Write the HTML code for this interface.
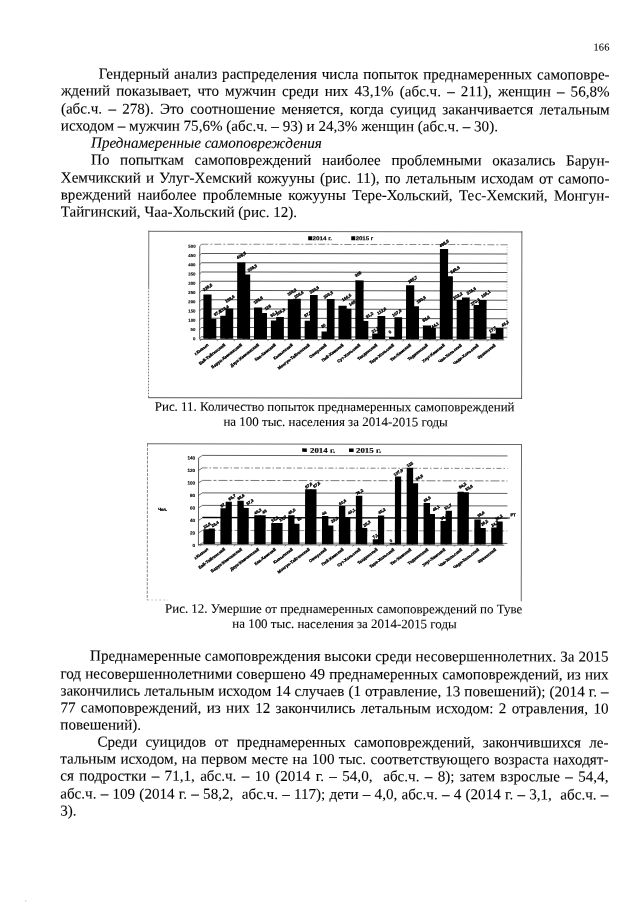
<!DOCTYPE html>
<html lang="ru">
<head>
<meta charset="utf-8">
<title>166</title>
<style>
html,body{margin:0;padding:0;background:#fff;}
body{width:640px;height:905px;position:relative;overflow:hidden;font-family:"Liberation Serif",serif;color:#000;}
.l{position:absolute;white-space:pre;line-height:17.0px;height:17.0px;color:#000;-webkit-text-stroke:0.08px #000;}
#pg{position:absolute;left:0;top:0;width:640px;height:905px;transform:rotate(0.1deg);transform-origin:320px 452px;}
svg{position:absolute;left:0;top:0;}
svg text{font-family:"Liberation Sans",sans-serif;fill:#000;stroke:#000;stroke-width:0.32px;}
svg text.lg{stroke-width:0.15px;}
svg text.yl{stroke-width:0.12px;}
svg text.s{font-family:"Liberation Serif",serif;}
</style>
</head>
<body>
<div id="pg">
<div class="l" style="left:592.70px;top:37.79px;font-size:10.4px;letter-spacing:0.25px;">166</div>
<div class="l" style="left:98.00px;top:66.10px;font-size:15.1px;width:511.00px;text-align:justify;text-align-last:justify;">Гендерный анализ распределения числа попыток преднамеренных самоповре-</div>
<div class="l" style="left:60.30px;top:83.36px;font-size:15.1px;width:548.70px;text-align:justify;text-align-last:justify;">ждений показывает, что мужчин среди них 43,1% (абс.ч. – 211), женщин – 56,8%</div>
<div class="l" style="left:60.30px;top:100.62px;font-size:15.1px;width:548.70px;text-align:justify;text-align-last:justify;">(абс.ч. – 278). Это соотношение меняется, когда суицид заканчивается летальным</div>
<div class="l" style="left:60.30px;top:117.88px;font-size:15.1px;">исходом – мужчин 75,6% (абс.ч. – 93) и 24,3% женщин (абс.ч. – 30).</div>
<div class="l" style="left:90.50px;top:135.14px;font-size:15.1px;font-style:italic;">Преднамеренные самоповреждения</div>
<div class="l" style="left:90.50px;top:152.40px;font-size:15.1px;width:518.50px;text-align:justify;text-align-last:justify;">По попыткам самоповреждений наиболее проблемными оказались Барун-</div>
<div class="l" style="left:60.30px;top:169.66px;font-size:15.1px;width:548.70px;text-align:justify;text-align-last:justify;">Хемчикский и Улуг-Хемский кожууны (рис. 11), по летальным исходам от самопо-</div>
<div class="l" style="left:60.30px;top:186.92px;font-size:15.1px;width:548.70px;text-align:justify;text-align-last:justify;">вреждений наиболее проблемные кожууны Тере-Хольский, Тес-Хемский, Монгун-</div>
<div class="l" style="left:60.30px;top:204.18px;font-size:15.1px;">Тайгинский, Чаа-Хольский (рис. 12).</div>
<div class="l" style="left:154.70px;top:398.03px;font-size:12.95px;">Рис. 11. Количество попыток преднамеренных самоповреждений</div>
<div class="l" style="left:223.40px;top:413.38px;font-size:12.95px;">на 100 тыс. населения за 2014-2015 годы</div>
<div class="l" style="left:165.30px;top:600.03px;font-size:12.95px;">Рис. 12. Умершие от преднамеренных самоповреждений по Туве</div>
<div class="l" style="left:232.60px;top:615.03px;font-size:12.95px;">на 100 тыс. населения за 2014-2015 годы</div>
<div class="l" style="left:90.40px;top:648.35px;font-size:15.1px;width:518.60px;text-align:justify;text-align-last:justify;">Преднамеренные самоповреждения высоки среди несовершеннолетних. За 2015</div>
<div class="l" style="left:60.85px;top:665.50px;font-size:15.1px;width:548.15px;text-align:justify;text-align-last:justify;">год несовершеннолетними совершено 49 преднамеренных самоповреждений, из них</div>
<div class="l" style="left:60.85px;top:682.65px;font-size:15.1px;width:548.15px;text-align:justify;text-align-last:justify;">закончились летальным исходом 14 случаев (1 отравление, 13 повешений); (2014 г. –</div>
<div class="l" style="left:60.85px;top:699.80px;font-size:15.1px;width:548.15px;text-align:justify;text-align-last:justify;">77 самоповреждений, из них 12 закончились летальным исходом: 2 отравления, 10</div>
<div class="l" style="left:60.85px;top:716.95px;font-size:15.1px;">повешений).</div>
<div class="l" style="left:97.90px;top:734.10px;font-size:15.1px;width:511.10px;text-align:justify;text-align-last:justify;">Среди суицидов от преднамеренных самоповреждений, закончившихся ле-</div>
<div class="l" style="left:60.85px;top:751.25px;font-size:15.1px;width:548.15px;text-align:justify;text-align-last:justify;">тальным исходом, на первом месте на 100 тыс. соответствующего возраста находят-</div>
<div class="l" style="left:60.85px;top:768.40px;font-size:15.1px;width:548.15px;text-align:justify;text-align-last:justify;">ся подростки – 71,1, абс.ч. – 10 (2014 г. – 54,0,  абс.ч. – 8); затем взрослые – 54,4,</div>
<div class="l" style="left:60.85px;top:785.55px;font-size:15.1px;width:548.15px;text-align:justify;text-align-last:justify;">абс.ч. – 109 (2014 г. – 58,2,  абс.ч. – 117); дети – 4,0, абс.ч. – 4 (2014 г. – 3,1,  абс.ч. –</div>
<div class="l" style="left:60.85px;top:802.70px;font-size:15.1px;">3).</div>
<div style="position:absolute;left:26px;top:901px;width:1px;height:1px;background:#aaa"></div>
<svg width="640" height="905" viewBox="0 0 640 905">
<g>
<line x1="148" y1="231.6" x2="522" y2="231.6" stroke="#555" stroke-width="0.9"/>
<line x1="148.4" y1="231" x2="148.4" y2="288" stroke="#666" stroke-width="0.9"/>
<line x1="148.4" y1="288" x2="148.4" y2="398.5" stroke="#666" stroke-width="0.9" stroke-dasharray="1.6 1.4"/>
<line x1="521.5" y1="231" x2="521.5" y2="398.5" stroke="#555" stroke-width="0.9"/>
<line x1="148" y1="398" x2="522" y2="398" stroke="#444" stroke-width="0.9"/>
<line x1="201.0" y1="244.35" x2="507.0" y2="244.35" stroke="#5a5a5a" stroke-width="1.0" stroke-dasharray="7 2 2 2" opacity="0.7"/>
<line x1="199.4" y1="246.55" x2="201.0" y2="244.35" stroke="#5a5a5a" stroke-width="0.7"/>
<line x1="201.0" y1="253.60" x2="507.0" y2="253.60" stroke="#5a5a5a" stroke-width="1.0"/>
<line x1="199.4" y1="255.80" x2="201.0" y2="253.60" stroke="#5a5a5a" stroke-width="0.7"/>
<line x1="201.0" y1="262.85" x2="507.0" y2="262.85" stroke="#5a5a5a" stroke-width="1.0"/>
<line x1="199.4" y1="265.05" x2="201.0" y2="262.85" stroke="#5a5a5a" stroke-width="0.7"/>
<line x1="201.0" y1="272.10" x2="507.0" y2="272.10" stroke="#5a5a5a" stroke-width="1.0"/>
<line x1="199.4" y1="274.30" x2="201.0" y2="272.10" stroke="#5a5a5a" stroke-width="0.7"/>
<line x1="201.0" y1="281.35" x2="507.0" y2="281.35" stroke="#5a5a5a" stroke-width="1.0"/>
<line x1="199.4" y1="283.55" x2="201.0" y2="281.35" stroke="#5a5a5a" stroke-width="0.7"/>
<line x1="201.0" y1="290.60" x2="507.0" y2="290.60" stroke="#5a5a5a" stroke-width="1.0"/>
<line x1="199.4" y1="292.80" x2="201.0" y2="290.60" stroke="#5a5a5a" stroke-width="0.7"/>
<line x1="201.0" y1="299.85" x2="507.0" y2="299.85" stroke="#5a5a5a" stroke-width="1.0"/>
<line x1="199.4" y1="302.05" x2="201.0" y2="299.85" stroke="#5a5a5a" stroke-width="0.7"/>
<line x1="201.0" y1="309.10" x2="507.0" y2="309.10" stroke="#5a5a5a" stroke-width="1.0"/>
<line x1="199.4" y1="311.30" x2="201.0" y2="309.10" stroke="#5a5a5a" stroke-width="0.7"/>
<line x1="201.0" y1="318.35" x2="507.0" y2="318.35" stroke="#5a5a5a" stroke-width="1.0"/>
<line x1="199.4" y1="320.55" x2="201.0" y2="318.35" stroke="#5a5a5a" stroke-width="0.7"/>
<line x1="201.0" y1="327.60" x2="507.0" y2="327.60" stroke="#5a5a5a" stroke-width="1.0"/>
<line x1="199.4" y1="329.80" x2="201.0" y2="327.60" stroke="#5a5a5a" stroke-width="0.7"/>
<line x1="201.0" y1="336.85" x2="507.0" y2="336.85" stroke="#5a5a5a" stroke-width="1.0"/>
<line x1="199.4" y1="339.05" x2="201.0" y2="336.85" stroke="#5a5a5a" stroke-width="0.7"/>
<line x1="199.4" y1="246.55" x2="199.4" y2="339.05" stroke="#333" stroke-width="0.8"/>
<line x1="199.4" y1="339.60" x2="504.0" y2="339.60" stroke="#333" stroke-width="0.8"/>
<text x="195.2" y="248.05" class="yl" font-size="4.3" font-weight="bold" text-anchor="end">500</text>
<text x="195.2" y="257.31" class="yl" font-size="4.3" font-weight="bold" text-anchor="end">450</text>
<text x="195.2" y="266.56" class="yl" font-size="4.3" font-weight="bold" text-anchor="end">400</text>
<text x="195.2" y="275.81" class="yl" font-size="4.3" font-weight="bold" text-anchor="end">350</text>
<text x="195.2" y="285.06" class="yl" font-size="4.3" font-weight="bold" text-anchor="end">300</text>
<text x="195.2" y="294.31" class="yl" font-size="4.3" font-weight="bold" text-anchor="end">250</text>
<text x="195.2" y="303.56" class="yl" font-size="4.3" font-weight="bold" text-anchor="end">200</text>
<text x="195.2" y="312.81" class="yl" font-size="4.3" font-weight="bold" text-anchor="end">150</text>
<text x="195.2" y="322.06" class="yl" font-size="4.3" font-weight="bold" text-anchor="end">100</text>
<text x="195.2" y="331.31" class="yl" font-size="4.3" font-weight="bold" text-anchor="end">50</text>
<text x="195.2" y="340.56" class="yl" font-size="4.3" font-weight="bold" text-anchor="end">0</text>
<rect x="203.10" y="294.70" width="8.20" height="44.30"/>
<rect x="208.40" y="318.90" width="7.70" height="20.10"/>
<rect x="219.99" y="316.00" width="8.20" height="23.00"/>
<rect x="225.29" y="308.75" width="7.70" height="30.25"/>
<rect x="236.88" y="262.70" width="8.20" height="76.30"/>
<rect x="242.18" y="274.70" width="7.70" height="64.30"/>
<rect x="253.77" y="307.50" width="8.20" height="31.50"/>
<rect x="259.07" y="313.10" width="7.70" height="25.90"/>
<rect x="270.66" y="320.50" width="8.20" height="18.50"/>
<rect x="275.96" y="317.00" width="7.70" height="22.00"/>
<rect x="287.55" y="299.30" width="8.20" height="39.70"/>
<rect x="292.85" y="298.70" width="7.70" height="40.30"/>
<rect x="304.44" y="320.80" width="8.20" height="18.20"/>
<rect x="309.74" y="295.00" width="7.70" height="44.00"/>
<rect x="321.33" y="331.40" width="8.20" height="7.60"/>
<rect x="326.63" y="299.00" width="7.70" height="40.00"/>
<rect x="338.22" y="305.60" width="8.20" height="33.40"/>
<rect x="343.52" y="308.75" width="7.70" height="30.25"/>
<rect x="355.11" y="280.30" width="8.20" height="58.70"/>
<rect x="360.41" y="320.80" width="7.70" height="18.20"/>
<rect x="372.00" y="333.30" width="8.20" height="5.70"/>
<rect x="377.30" y="316.00" width="7.70" height="23.00"/>
<rect x="388.89" y="336.90" width="8.20" height="2.10"/>
<rect x="394.19" y="317.00" width="7.70" height="22.00"/>
<rect x="405.78" y="285.00" width="8.20" height="54.00"/>
<rect x="411.08" y="306.00" width="7.70" height="33.00"/>
<rect x="422.67" y="325.20" width="8.20" height="13.80"/>
<rect x="427.97" y="327.80" width="7.70" height="11.20"/>
<rect x="439.56" y="248.90" width="8.20" height="90.10"/>
<rect x="444.86" y="276.00" width="7.70" height="63.00"/>
<rect x="456.45" y="299.80" width="8.20" height="39.20"/>
<rect x="461.75" y="297.30" width="7.70" height="41.70"/>
<rect x="473.34" y="304.80" width="8.20" height="34.20"/>
<rect x="478.64" y="299.80" width="7.70" height="39.20"/>
<rect x="490.23" y="333.30" width="8.20" height="5.70"/>
<rect x="495.53" y="327.80" width="7.70" height="11.20"/>
<text transform="translate(203.71,291.50) rotate(-33)" font-size="4.1" font-weight="bold">228,5</text>
<text transform="translate(214.71,316.40) rotate(-33)" font-size="4.1" font-weight="bold">97,5</text>
<text transform="translate(220.60,312.80) rotate(-33)" font-size="4.1" font-weight="bold">113,4</text>
<text transform="translate(226.10,303.05) rotate(-33)" font-size="4.1" font-weight="bold">153,6</text>
<text transform="translate(237.49,259.50) rotate(-33)" font-size="4.1" font-weight="bold">408,5</text>
<text transform="translate(248.49,272.20) rotate(-33)" font-size="4.1" font-weight="bold">338,3</text>
<text transform="translate(254.38,304.30) rotate(-33)" font-size="4.1" font-weight="bold">158,8</text>
<text transform="translate(265.38,310.60) rotate(-33)" font-size="4.1" font-weight="bold">128</text>
<text transform="translate(271.27,317.30) rotate(-33)" font-size="4.1" font-weight="bold">92,1</text>
<text transform="translate(276.77,315.80) rotate(-33)" font-size="4.1" font-weight="bold">106,9</text>
<text transform="translate(288.16,296.10) rotate(-33)" font-size="4.1" font-weight="bold">196,3</text>
<text transform="translate(295.16,298.50) rotate(-33)" font-size="4.1" font-weight="bold">206,6</text>
<text transform="translate(305.05,317.60) rotate(-33)" font-size="4.1" font-weight="bold">87,5</text>
<text transform="translate(310.55,293.80) rotate(-33)" font-size="4.1" font-weight="bold">223,5</text>
<text transform="translate(321.94,328.20) rotate(-33)" font-size="4.1" font-weight="bold">30</text>
<text transform="translate(324.44,298.80) rotate(-33)" font-size="4.1" font-weight="bold">203,3</text>
<text transform="translate(342.83,301.40) rotate(-33)" font-size="4.1" font-weight="bold">166,6</text>
<text transform="translate(349.83,306.25) rotate(-33)" font-size="4.1" font-weight="bold">145</text>
<text transform="translate(355.72,277.10) rotate(-33)" font-size="4.1" font-weight="bold">308</text>
<text transform="translate(366.72,318.30) rotate(-33)" font-size="4.1" font-weight="bold">91,2</text>
<text transform="translate(372.61,333.10) rotate(-33)" font-size="4.1" font-weight="bold">21,2</text>
<text transform="translate(378.11,314.80) rotate(-33)" font-size="4.1" font-weight="bold">112,6</text>
<text transform="translate(389.50,333.70) rotate(-33)" font-size="4.1" font-weight="bold">0</text>
<text transform="translate(393.00,316.80) rotate(-33)" font-size="4.1" font-weight="bold">107,9</text>
<text transform="translate(408.89,283.30) rotate(-33)" font-size="4.1" font-weight="bold">285,7</text>
<text transform="translate(417.39,303.50) rotate(-33)" font-size="4.1" font-weight="bold">160,6</text>
<text transform="translate(423.28,322.00) rotate(-33)" font-size="4.1" font-weight="bold">55,6</text>
<text transform="translate(432.28,328.30) rotate(-33)" font-size="4.1" font-weight="bold">44,1</text>
<text transform="translate(440.17,247.20) rotate(-33)" font-size="4.1" font-weight="bold">498,5</text>
<text transform="translate(451.17,273.50) rotate(-33)" font-size="4.1" font-weight="bold">349,5</text>
<text transform="translate(454.06,299.60) rotate(-33)" font-size="4.1" font-weight="bold">202,2</text>
<text transform="translate(467.56,294.60) rotate(-33)" font-size="4.1" font-weight="bold">215,6</text>
<text transform="translate(471.45,305.60) rotate(-33)" font-size="4.1" font-weight="bold">170,6</text>
<text transform="translate(481.95,297.60) rotate(-33)" font-size="4.1" font-weight="bold">196,1</text>
<text transform="translate(489.84,332.60) rotate(-33)" font-size="4.1" font-weight="bold">17,7</text>
<text transform="translate(502.34,326.60) rotate(-33)" font-size="4.1" font-weight="bold">46,2</text>
<text transform="translate(208.60,345.60) rotate(-38)" font-size="4.1" font-weight="bold" text-anchor="end">г.Кызыл</text>
<line x1="201.10" y1="339.60" x2="199.80" y2="341.20" stroke="#333" stroke-width="0.6"/>
<text transform="translate(225.49,345.60) rotate(-38)" font-size="4.1" font-weight="bold" text-anchor="end">Бай-Тайгинский</text>
<line x1="217.99" y1="339.60" x2="216.69" y2="341.20" stroke="#333" stroke-width="0.6"/>
<text transform="translate(242.38,345.60) rotate(-38)" font-size="4.1" font-weight="bold" text-anchor="end">Барун-Хемчикский</text>
<line x1="234.88" y1="339.60" x2="233.58" y2="341.20" stroke="#333" stroke-width="0.6"/>
<text transform="translate(259.27,345.60) rotate(-38)" font-size="4.1" font-weight="bold" text-anchor="end">Дзун-Хемчикский</text>
<line x1="251.77" y1="339.60" x2="250.47" y2="341.20" stroke="#333" stroke-width="0.6"/>
<text transform="translate(276.16,345.60) rotate(-38)" font-size="4.1" font-weight="bold" text-anchor="end">Каа-Хемский</text>
<line x1="268.66" y1="339.60" x2="267.36" y2="341.20" stroke="#333" stroke-width="0.6"/>
<text transform="translate(293.05,345.60) rotate(-38)" font-size="4.1" font-weight="bold" text-anchor="end">Кызылский</text>
<line x1="285.55" y1="339.60" x2="284.25" y2="341.20" stroke="#333" stroke-width="0.6"/>
<text transform="translate(309.94,345.60) rotate(-38)" font-size="4.1" font-weight="bold" text-anchor="end">Монгун-Тайгинский</text>
<line x1="302.44" y1="339.60" x2="301.14" y2="341.20" stroke="#333" stroke-width="0.6"/>
<text transform="translate(326.83,345.60) rotate(-38)" font-size="4.1" font-weight="bold" text-anchor="end">Овюрский</text>
<line x1="319.33" y1="339.60" x2="318.03" y2="341.20" stroke="#333" stroke-width="0.6"/>
<text transform="translate(343.72,345.60) rotate(-38)" font-size="4.1" font-weight="bold" text-anchor="end">Пий-Хемский</text>
<line x1="336.22" y1="339.60" x2="334.92" y2="341.20" stroke="#333" stroke-width="0.6"/>
<text transform="translate(360.61,345.60) rotate(-38)" font-size="4.1" font-weight="bold" text-anchor="end">Сут-Хольский</text>
<line x1="353.11" y1="339.60" x2="351.81" y2="341.20" stroke="#333" stroke-width="0.6"/>
<text transform="translate(377.50,345.60) rotate(-38)" font-size="4.1" font-weight="bold" text-anchor="end">Тандинский</text>
<line x1="370.00" y1="339.60" x2="368.70" y2="341.20" stroke="#333" stroke-width="0.6"/>
<text transform="translate(394.39,345.60) rotate(-38)" font-size="4.1" font-weight="bold" text-anchor="end">Тере-Хольский</text>
<line x1="386.89" y1="339.60" x2="385.59" y2="341.20" stroke="#333" stroke-width="0.6"/>
<text transform="translate(411.28,345.60) rotate(-38)" font-size="4.1" font-weight="bold" text-anchor="end">Тес-Хемский</text>
<line x1="403.78" y1="339.60" x2="402.48" y2="341.20" stroke="#333" stroke-width="0.6"/>
<text transform="translate(428.17,345.60) rotate(-38)" font-size="4.1" font-weight="bold" text-anchor="end">Тоджинский</text>
<line x1="420.67" y1="339.60" x2="419.37" y2="341.20" stroke="#333" stroke-width="0.6"/>
<text transform="translate(445.06,345.60) rotate(-38)" font-size="4.1" font-weight="bold" text-anchor="end">Улуг-Хемский</text>
<line x1="437.56" y1="339.60" x2="436.26" y2="341.20" stroke="#333" stroke-width="0.6"/>
<text transform="translate(461.95,345.60) rotate(-38)" font-size="4.1" font-weight="bold" text-anchor="end">Чаа-Хольский</text>
<line x1="454.45" y1="339.60" x2="453.15" y2="341.20" stroke="#333" stroke-width="0.6"/>
<text transform="translate(478.84,345.60) rotate(-38)" font-size="4.1" font-weight="bold" text-anchor="end">Чеди-Хольский</text>
<line x1="471.34" y1="339.60" x2="470.04" y2="341.20" stroke="#333" stroke-width="0.6"/>
<text transform="translate(495.73,345.60) rotate(-38)" font-size="4.1" font-weight="bold" text-anchor="end">Эрзинский</text>
<line x1="488.23" y1="339.60" x2="486.93" y2="341.20" stroke="#333" stroke-width="0.6"/>
<line x1="506.8" y1="244" x2="506.8" y2="337" stroke="#888" stroke-width="0.6" stroke-dasharray="1 1.5"/>
<rect x="307.8" y="236.2" width="4" height="4"/>
<text x="312.2" y="240.2" class="lg" font-size="5.6" font-weight="bold" textLength="19.5" lengthAdjust="spacingAndGlyphs">2014 г.</text>
<rect x="350.9" y="236.2" width="4" height="4"/>
<text x="355.3" y="240.2" class="lg" font-size="5.6" font-weight="bold" textLength="17.6" lengthAdjust="spacingAndGlyphs">2015 г</text>
</g>
<g>
<line x1="147" y1="444.1" x2="522" y2="444.1" stroke="#666" stroke-width="1.1"/>
<line x1="147.5" y1="444" x2="147.5" y2="600.5" stroke="#777" stroke-width="0.9" stroke-dasharray="3 1.2"/>
<line x1="521.5" y1="444" x2="521.5" y2="601" stroke="#6a6a6a" stroke-width="1"/>
<line x1="147.5" y1="600.3" x2="168" y2="600.3" stroke="#aaa" stroke-width="0.7" stroke-dasharray="2 2"/>
<line x1="202.5" y1="455.60" x2="507.5" y2="455.60" stroke="#3a3a3a" stroke-width="0.8"/>
<line x1="198.6" y1="458.10" x2="202.5" y2="455.60" stroke="#3a3a3a" stroke-width="0.7"/>
<line x1="202.5" y1="468.10" x2="507.5" y2="468.10" stroke="#3a3a3a" stroke-width="0.8" stroke-dasharray="5 2 1.5 2" opacity="0.8"/>
<line x1="198.6" y1="470.60" x2="202.5" y2="468.10" stroke="#3a3a3a" stroke-width="0.7"/>
<line x1="202.5" y1="480.60" x2="507.5" y2="480.60" stroke="#3a3a3a" stroke-width="0.8" stroke-dasharray="9 2 3 2" opacity="0.85"/>
<line x1="198.6" y1="483.10" x2="202.5" y2="480.60" stroke="#3a3a3a" stroke-width="0.7"/>
<line x1="202.5" y1="493.10" x2="507.5" y2="493.10" stroke="#3a3a3a" stroke-width="0.8"/>
<line x1="198.6" y1="495.60" x2="202.5" y2="493.10" stroke="#3a3a3a" stroke-width="0.7"/>
<line x1="202.5" y1="505.60" x2="507.5" y2="505.60" stroke="#3a3a3a" stroke-width="0.8"/>
<line x1="198.6" y1="508.10" x2="202.5" y2="505.60" stroke="#3a3a3a" stroke-width="0.7"/>
<line x1="202.5" y1="518.10" x2="507.5" y2="518.10" stroke="#3a3a3a" stroke-width="0.8"/>
<line x1="198.6" y1="520.60" x2="202.5" y2="518.10" stroke="#3a3a3a" stroke-width="0.7"/>
<line x1="202.5" y1="530.60" x2="507.5" y2="530.60" stroke="#3a3a3a" stroke-width="0.8" stroke-dasharray="6 2" opacity="0.7"/>
<line x1="198.6" y1="533.10" x2="202.5" y2="530.60" stroke="#3a3a3a" stroke-width="0.7"/>
<line x1="202.5" y1="543.10" x2="507.5" y2="543.10" stroke="#3a3a3a" stroke-width="0.8"/>
<line x1="198.6" y1="545.60" x2="202.5" y2="543.10" stroke="#3a3a3a" stroke-width="0.7"/>
<line x1="198.6" y1="458.10" x2="198.6" y2="545.60" stroke="#333" stroke-width="0.8"/>
<line x1="198.6" y1="544.90" x2="504.5" y2="544.90" stroke="#333" stroke-width="0.8"/>
<text x="195.2" y="459.71" class="yl" font-size="4.6" font-weight="bold" text-anchor="end">140</text>
<text x="195.2" y="472.21" class="yl" font-size="4.6" font-weight="bold" text-anchor="end">120</text>
<text x="195.2" y="484.71" class="yl" font-size="4.6" font-weight="bold" text-anchor="end">100</text>
<text x="195.2" y="497.21" class="yl" font-size="4.6" font-weight="bold" text-anchor="end">80</text>
<text x="195.2" y="509.71" class="yl" font-size="4.6" font-weight="bold" text-anchor="end">60</text>
<text x="195.2" y="522.21" class="yl" font-size="4.6" font-weight="bold" text-anchor="end">40</text>
<text x="195.2" y="534.71" class="yl" font-size="4.6" font-weight="bold" text-anchor="end">20</text>
<text x="195.2" y="547.21" class="yl" font-size="4.6" font-weight="bold" text-anchor="end">0</text>
<line x1="202.5" y1="517.6" x2="510" y2="517.6" stroke="#000" stroke-width="1.1"/>
<rect x="203.60" y="529.40" width="6.40" height="14.90"/>
<rect x="208.80" y="528.75" width="6.20" height="15.55"/>
<rect x="220.53" y="508.30" width="6.40" height="36.00"/>
<rect x="225.73" y="502.00" width="6.20" height="42.30"/>
<rect x="237.46" y="500.80" width="6.40" height="43.50"/>
<rect x="242.66" y="508.00" width="6.20" height="36.30"/>
<rect x="254.39" y="515.30" width="6.40" height="29.00"/>
<rect x="259.59" y="515.30" width="6.20" height="29.00"/>
<rect x="271.32" y="523.10" width="6.40" height="21.20"/>
<rect x="276.52" y="523.10" width="6.20" height="21.20"/>
<rect x="288.25" y="515.30" width="6.40" height="29.00"/>
<rect x="293.45" y="523.90" width="6.20" height="20.40"/>
<rect x="305.18" y="489.20" width="6.40" height="55.10"/>
<rect x="310.38" y="489.20" width="6.20" height="55.10"/>
<rect x="322.11" y="516.10" width="6.40" height="28.20"/>
<rect x="327.31" y="525.50" width="6.20" height="18.80"/>
<rect x="339.04" y="505.90" width="6.40" height="38.40"/>
<rect x="344.24" y="517.20" width="6.20" height="27.10"/>
<rect x="355.97" y="495.80" width="6.40" height="48.50"/>
<rect x="361.17" y="527.80" width="6.20" height="16.50"/>
<rect x="372.90" y="539.20" width="6.40" height="5.10"/>
<rect x="378.10" y="515.30" width="6.20" height="29.00"/>
<rect x="389.83" y="543.00" width="6.40" height="1.30"/>
<rect x="395.03" y="476.25" width="6.20" height="68.05"/>
<rect x="406.76" y="467.70" width="6.40" height="76.60"/>
<rect x="411.96" y="483.00" width="6.20" height="61.30"/>
<rect x="423.69" y="502.80" width="6.40" height="41.50"/>
<rect x="428.89" y="513.75" width="6.20" height="30.55"/>
<rect x="440.62" y="520.80" width="6.40" height="23.50"/>
<rect x="445.82" y="510.60" width="6.20" height="33.70"/>
<rect x="457.55" y="491.60" width="6.40" height="52.70"/>
<rect x="462.75" y="492.00" width="6.20" height="52.30"/>
<rect x="474.48" y="519.20" width="6.40" height="25.10"/>
<rect x="479.68" y="527.80" width="6.20" height="16.50"/>
<rect x="491.41" y="527.30" width="6.40" height="17.00"/>
<rect x="496.61" y="521.25" width="6.20" height="23.05"/>
<text transform="translate(204.67,528.90) rotate(-33)" font-size="4.0" font-weight="bold">22,8</text>
<text transform="translate(212.67,527.55) rotate(-33)" font-size="4.0" font-weight="bold">23,4</text>
<text transform="translate(221.60,507.80) rotate(-33)" font-size="4.0" font-weight="bold">57</text>
<text transform="translate(229.60,500.80) rotate(-33)" font-size="4.0" font-weight="bold">66,7</text>
<text transform="translate(238.53,500.30) rotate(-33)" font-size="4.0" font-weight="bold">68,6</text>
<text transform="translate(247.53,505.50) rotate(-33)" font-size="4.0" font-weight="bold">57,3</text>
<text transform="translate(255.46,514.80) rotate(-33)" font-size="4.0" font-weight="bold">46,3</text>
<text transform="translate(263.46,514.10) rotate(-33)" font-size="4.0" font-weight="bold">46</text>
<text transform="translate(272.39,522.60) rotate(-33)" font-size="4.0" font-weight="bold">33,2</text>
<text transform="translate(280.39,521.90) rotate(-33)" font-size="4.0" font-weight="bold">33,7</text>
<text transform="translate(289.32,514.80) rotate(-33)" font-size="4.0" font-weight="bold">45,5</text>
<text transform="translate(298.32,521.40) rotate(-33)" font-size="4.0" font-weight="bold">30</text>
<text transform="translate(306.25,488.70) rotate(-33)" font-size="4.0" font-weight="bold">87,6</text>
<text transform="translate(314.25,488.00) rotate(-33)" font-size="4.0" font-weight="bold">87,5</text>
<text transform="translate(323.18,515.60) rotate(-33)" font-size="4.0" font-weight="bold">44</text>
<text transform="translate(332.18,523.00) rotate(-33)" font-size="4.0" font-weight="bold">29,3</text>
<text transform="translate(340.11,505.40) rotate(-33)" font-size="4.0" font-weight="bold">60,6</text>
<text transform="translate(349.11,514.70) rotate(-33)" font-size="4.0" font-weight="bold">40,1</text>
<text transform="translate(357.04,495.30) rotate(-33)" font-size="4.0" font-weight="bold">76,2</text>
<text transform="translate(364.54,526.80) rotate(-33)" font-size="4.0" font-weight="bold">25,3</text>
<text transform="translate(373.97,538.70) rotate(-33)" font-size="4.0" font-weight="bold">7,1</text>
<text transform="translate(379.47,514.10) rotate(-33)" font-size="4.0" font-weight="bold">45,2</text>
<text transform="translate(390.90,542.50) rotate(-33)" font-size="4.0" font-weight="bold">0</text>
<text transform="translate(394.90,476.05) rotate(-33)" font-size="4.0" font-weight="bold">107,9</text>
<text transform="translate(407.83,467.20) rotate(-33)" font-size="4.0" font-weight="bold">122</text>
<text transform="translate(416.83,480.50) rotate(-33)" font-size="4.0" font-weight="bold">96,8</text>
<text transform="translate(424.76,502.30) rotate(-33)" font-size="4.0" font-weight="bold">65,5</text>
<text transform="translate(433.76,511.25) rotate(-33)" font-size="4.0" font-weight="bold">46,1</text>
<text transform="translate(441.69,520.30) rotate(-33)" font-size="4.0" font-weight="bold">36,4</text>
<text transform="translate(445.69,509.90) rotate(-33)" font-size="4.0" font-weight="bold">51,7</text>
<text transform="translate(460.12,488.60) rotate(-33)" font-size="4.0" font-weight="bold">84,2</text>
<text transform="translate(466.62,490.80) rotate(-33)" font-size="4.0" font-weight="bold">83,8</text>
<text transform="translate(478.55,517.20) rotate(-33)" font-size="4.0" font-weight="bold">39,6</text>
<text transform="translate(482.05,525.80) rotate(-33)" font-size="4.0" font-weight="bold">26,2</text>
<text transform="translate(492.48,526.80) rotate(-33)" font-size="4.0" font-weight="bold">24,7</text>
<text transform="translate(496.48,520.55) rotate(-33)" font-size="4.0" font-weight="bold">36,2</text>
<text transform="translate(208.80,550.00) rotate(-37)" font-size="4.1" font-weight="bold" text-anchor="end">г.Кызыл</text>
<line x1="201.60" y1="544.90" x2="200.30" y2="546.50" stroke="#333" stroke-width="0.6"/>
<text transform="translate(225.73,550.00) rotate(-37)" font-size="4.1" font-weight="bold" text-anchor="end">Бай-Тайгинский</text>
<line x1="218.53" y1="544.90" x2="217.23" y2="546.50" stroke="#333" stroke-width="0.6"/>
<text transform="translate(242.66,550.00) rotate(-37)" font-size="4.1" font-weight="bold" text-anchor="end">Барун-Хемчикский</text>
<line x1="235.46" y1="544.90" x2="234.16" y2="546.50" stroke="#333" stroke-width="0.6"/>
<text transform="translate(259.59,550.00) rotate(-37)" font-size="4.1" font-weight="bold" text-anchor="end">Дзун-Хемчикский</text>
<line x1="252.39" y1="544.90" x2="251.09" y2="546.50" stroke="#333" stroke-width="0.6"/>
<text transform="translate(276.52,550.00) rotate(-37)" font-size="4.1" font-weight="bold" text-anchor="end">Каа-Хемский</text>
<line x1="269.32" y1="544.90" x2="268.02" y2="546.50" stroke="#333" stroke-width="0.6"/>
<text transform="translate(293.45,550.00) rotate(-37)" font-size="4.1" font-weight="bold" text-anchor="end">Кызылский</text>
<line x1="286.25" y1="544.90" x2="284.95" y2="546.50" stroke="#333" stroke-width="0.6"/>
<text transform="translate(310.38,550.00) rotate(-37)" font-size="4.1" font-weight="bold" text-anchor="end">Монгун-Тайгинский</text>
<line x1="303.18" y1="544.90" x2="301.88" y2="546.50" stroke="#333" stroke-width="0.6"/>
<text transform="translate(327.31,550.00) rotate(-37)" font-size="4.1" font-weight="bold" text-anchor="end">Овюрский</text>
<line x1="320.11" y1="544.90" x2="318.81" y2="546.50" stroke="#333" stroke-width="0.6"/>
<text transform="translate(344.24,550.00) rotate(-37)" font-size="4.1" font-weight="bold" text-anchor="end">Пий-Хемский</text>
<line x1="337.04" y1="544.90" x2="335.74" y2="546.50" stroke="#333" stroke-width="0.6"/>
<text transform="translate(361.17,550.00) rotate(-37)" font-size="4.1" font-weight="bold" text-anchor="end">Сут-Хольский</text>
<line x1="353.97" y1="544.90" x2="352.67" y2="546.50" stroke="#333" stroke-width="0.6"/>
<text transform="translate(378.10,550.00) rotate(-37)" font-size="4.1" font-weight="bold" text-anchor="end">Тандинский</text>
<line x1="370.90" y1="544.90" x2="369.60" y2="546.50" stroke="#333" stroke-width="0.6"/>
<text transform="translate(395.03,550.00) rotate(-37)" font-size="4.1" font-weight="bold" text-anchor="end">Тере-Хольский</text>
<line x1="387.83" y1="544.90" x2="386.53" y2="546.50" stroke="#333" stroke-width="0.6"/>
<text transform="translate(411.96,550.00) rotate(-37)" font-size="4.1" font-weight="bold" text-anchor="end">Тес-Хемский</text>
<line x1="404.76" y1="544.90" x2="403.46" y2="546.50" stroke="#333" stroke-width="0.6"/>
<text transform="translate(428.89,550.00) rotate(-37)" font-size="4.1" font-weight="bold" text-anchor="end">Тоджинский</text>
<line x1="421.69" y1="544.90" x2="420.39" y2="546.50" stroke="#333" stroke-width="0.6"/>
<text transform="translate(445.82,550.00) rotate(-37)" font-size="4.1" font-weight="bold" text-anchor="end">Улуг-Хемский</text>
<line x1="438.62" y1="544.90" x2="437.32" y2="546.50" stroke="#333" stroke-width="0.6"/>
<text transform="translate(462.75,550.00) rotate(-37)" font-size="4.1" font-weight="bold" text-anchor="end">Чаа-Хольский</text>
<line x1="455.55" y1="544.90" x2="454.25" y2="546.50" stroke="#333" stroke-width="0.6"/>
<text transform="translate(479.68,550.00) rotate(-37)" font-size="4.1" font-weight="bold" text-anchor="end">Чеди-Хольский</text>
<line x1="472.48" y1="544.90" x2="471.18" y2="546.50" stroke="#333" stroke-width="0.6"/>
<text transform="translate(496.61,550.00) rotate(-37)" font-size="4.1" font-weight="bold" text-anchor="end">Эрзинский</text>
<line x1="489.41" y1="544.90" x2="488.11" y2="546.50" stroke="#333" stroke-width="0.6"/>
<text x="510.6" y="516" font-size="4.2" font-weight="bold">РТ</text>
<text x="158.4" y="511" font-size="4" font-weight="bold">Чел.</text>
<rect x="302.2" y="448.4" width="4.6" height="3.5"/>
<text x="310" y="452.7" font-size="7.2" font-weight="bold" class="s lg" textLength="25.2" lengthAdjust="spacingAndGlyphs">2014 г.</text>
<rect x="349.0" y="448.4" width="4.6" height="3.5"/>
<text x="356" y="452.7" font-size="7.2" font-weight="bold" class="s lg" textLength="25.2" lengthAdjust="spacingAndGlyphs">2015 г.</text>
</g>
</svg>
</div>
</body>
</html>
